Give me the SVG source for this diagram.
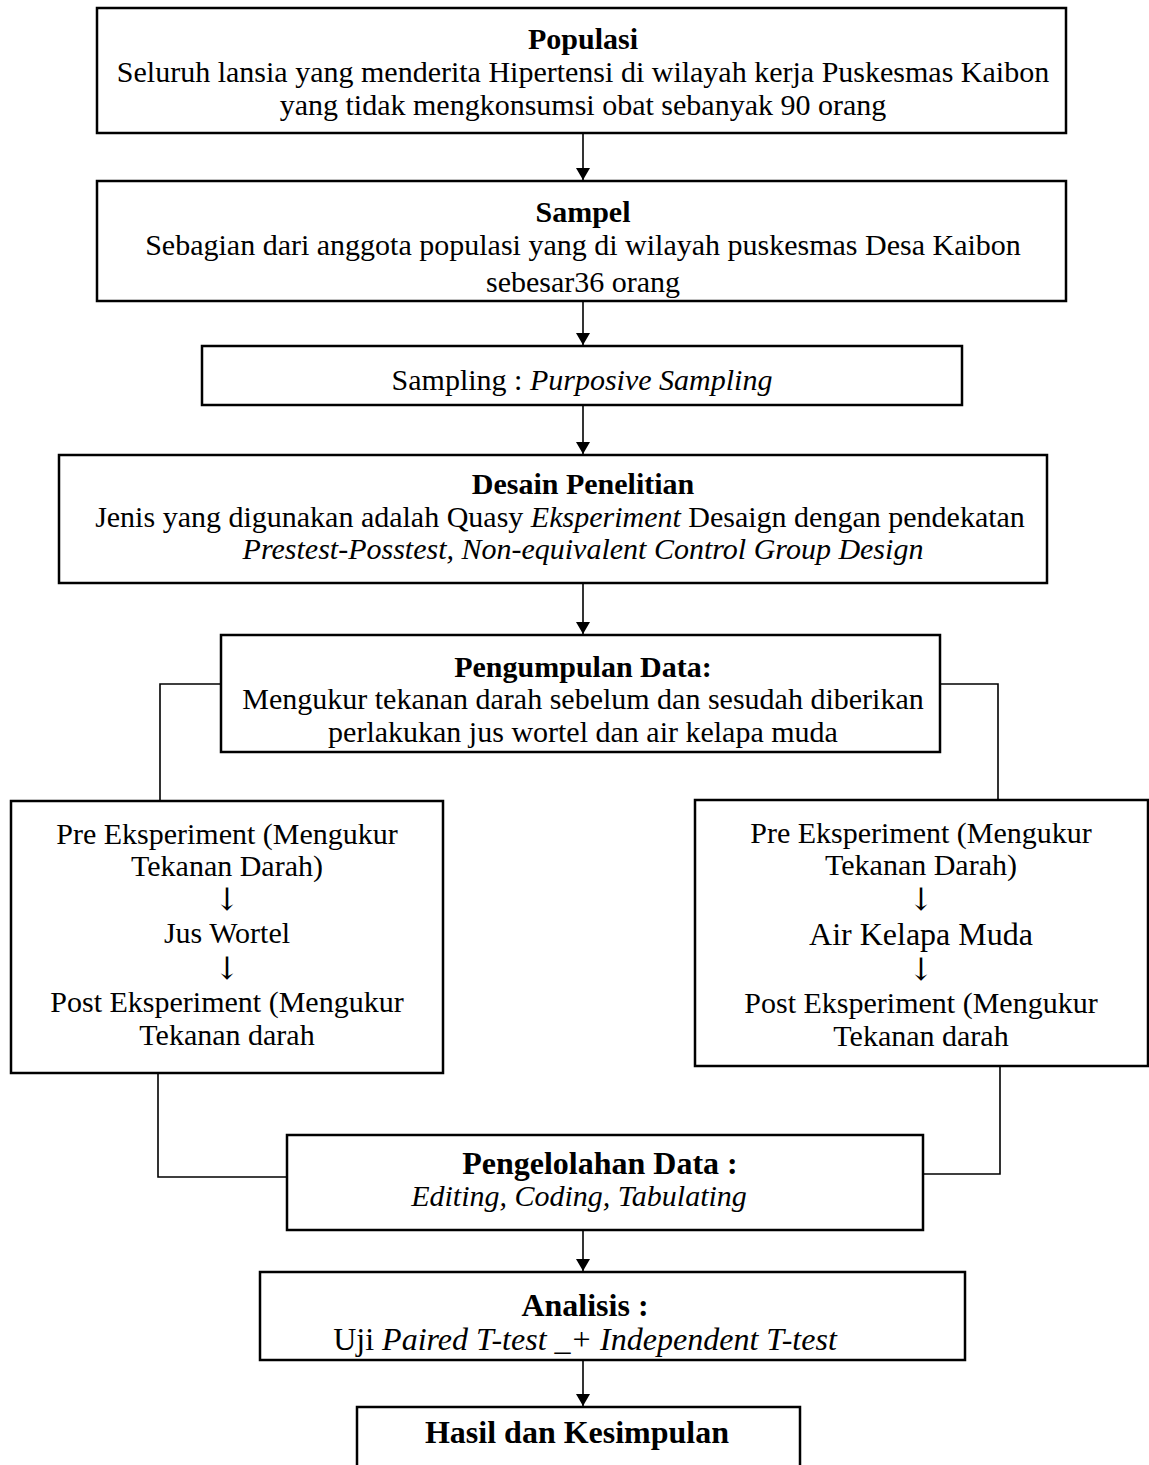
<svg xmlns="http://www.w3.org/2000/svg" width="1149" height="1465" viewBox="0 0 1149 1465">
<style>
.box{fill:#fff;stroke:#000;stroke-width:2.5}
.t{font-family:"Liberation Serif","Times New Roman",serif;font-size:30px;fill:#000;text-anchor:middle}
.b{font-weight:bold}
.i{font-style:italic}
.big{font-size:32px}
.ar{font-family:"DejaVu Serif","DejaVu Sans",serif;font-size:31px;fill:#000;text-anchor:middle}
.c{fill:none;stroke:#000;stroke-width:1.6}
</style>
<defs>
<marker id="ah" markerWidth="12" markerHeight="14" refX="12" refY="7" orient="auto" markerUnits="userSpaceOnUse">
<path d="M0,0 L12,7 L0,14 Z" fill="#000"/>
</marker>
</defs>
<rect width="1149" height="1465" fill="#fff"/>
<g id="connectors">
<line class="c" x1="583" y1="134" x2="583" y2="180" marker-end="url(#ah)"/>
<line class="c" x1="583" y1="302" x2="583" y2="345" marker-end="url(#ah)"/>
<line class="c" x1="583" y1="406" x2="583" y2="454" marker-end="url(#ah)"/>
<line class="c" x1="583" y1="584" x2="583" y2="634" marker-end="url(#ah)"/>
<polyline class="c" points="221,684 160,684 160,801"/>
<polyline class="c" points="940,684 998,684 998,800"/>
<polyline class="c" points="158,1074 158,1177 287,1177"/>
<polyline class="c" points="1000,1067 1000,1174 923,1174"/>
<line class="c" x1="583" y1="1231" x2="583" y2="1271" marker-end="url(#ah)"/>
<line class="c" x1="583" y1="1361" x2="583" y2="1406" marker-end="url(#ah)"/>
</g>
<g id="populasi">
<rect class="box" x="97" y="8" width="969" height="125"/>
<text class="t b" x="583" y="49">Populasi</text>
<text class="t" x="583" y="82">Seluruh lansia yang menderita Hipertensi di wilayah kerja Puskesmas Kaibon</text>
<text class="t" x="583" y="115">yang tidak mengkonsumsi obat sebanyak 90 orang</text>
</g>
<g id="sampel">
<rect class="box" x="97" y="181" width="969" height="120"/>
<text class="t b" x="583" y="222">Sampel</text>
<text class="t" x="583" y="255">Sebagian dari anggota populasi yang di wilayah puskesmas Desa Kaibon</text>
<text class="t" x="583" y="292">sebesar36 orang</text>
</g>
<g id="sampling">
<rect class="box" x="202" y="346" width="760" height="59"/>
<text class="t" x="582" y="390">Sampling : <tspan class="i">Purposive Sampling</tspan></text>
</g>
<g id="desain">
<rect class="box" x="59" y="455" width="988" height="128"/>
<text class="t b" x="583" y="494">Desain Penelitian</text>
<text class="t" x="560" y="527">Jenis yang digunakan adalah Quasy <tspan class="i">Eksperiment</tspan> Desaign dengan pendekatan</text>
<text class="t i" x="583" y="559">Prestest-Posstest, Non-equivalent Control Group Design</text>
</g>
<g id="pengumpulan">
<rect class="box" x="221" y="635" width="719" height="117"/>
<text class="t b" x="583" y="677">Pengumpulan Data:</text>
<text class="t" x="583" y="709">Mengukur tekanan darah sebelum dan sesudah diberikan</text>
<text class="t" x="583" y="742">perlakukan jus wortel dan air kelapa muda</text>
</g>
<g id="jus-wortel">
<rect class="box" x="11" y="801" width="432" height="272"/>
<text class="t" x="227" y="844">Pre Eksperiment (Mengukur</text>
<text class="t" x="227" y="876">Tekanan Darah)</text>
<text class="ar" x="227" y="910">↓</text>
<text class="t" x="227" y="943">Jus Wortel</text>
<text class="ar" x="227" y="979">↓</text>
<text class="t" x="227" y="1012">Post Eksperiment (Mengukur</text>
<text class="t" x="227" y="1045">Tekanan darah</text>
</g>
<g id="air-kelapa">
<rect class="box" x="695" y="800" width="453" height="266"/>
<text class="t" x="921" y="843">Pre Eksperiment (Mengukur</text>
<text class="t" x="921" y="875">Tekanan Darah)</text>
<text class="ar" x="921" y="910">↓</text>
<text class="t big" x="921" y="945">Air Kelapa Muda</text>
<text class="ar" x="921" y="980">↓</text>
<text class="t" x="921" y="1013">Post Eksperiment (Mengukur</text>
<text class="t" x="921" y="1046">Tekanan darah</text>
</g>
<g id="pengelolahan">
<rect class="box" x="287" y="1135" width="636" height="95"/>
<text class="t b big" x="600" y="1174">Pengelolahan Data :</text>
<text class="t i" x="579" y="1206">Editing, Coding, Tabulating</text>
</g>
<g id="analisis">
<rect class="box" x="260" y="1272" width="705" height="88"/>
<text class="t b big" x="585" y="1316">Analisis :</text>
<text class="t big" x="585" y="1350">Uji <tspan class="i">Paired T-test _+ Independent T-test</tspan></text>
</g>
<g id="hasil">
<rect class="box" x="357" y="1407" width="443" height="70"/>
<text class="t b big" x="577" y="1443">Hasil dan Kesimpulan</text>
</g>
</svg>
